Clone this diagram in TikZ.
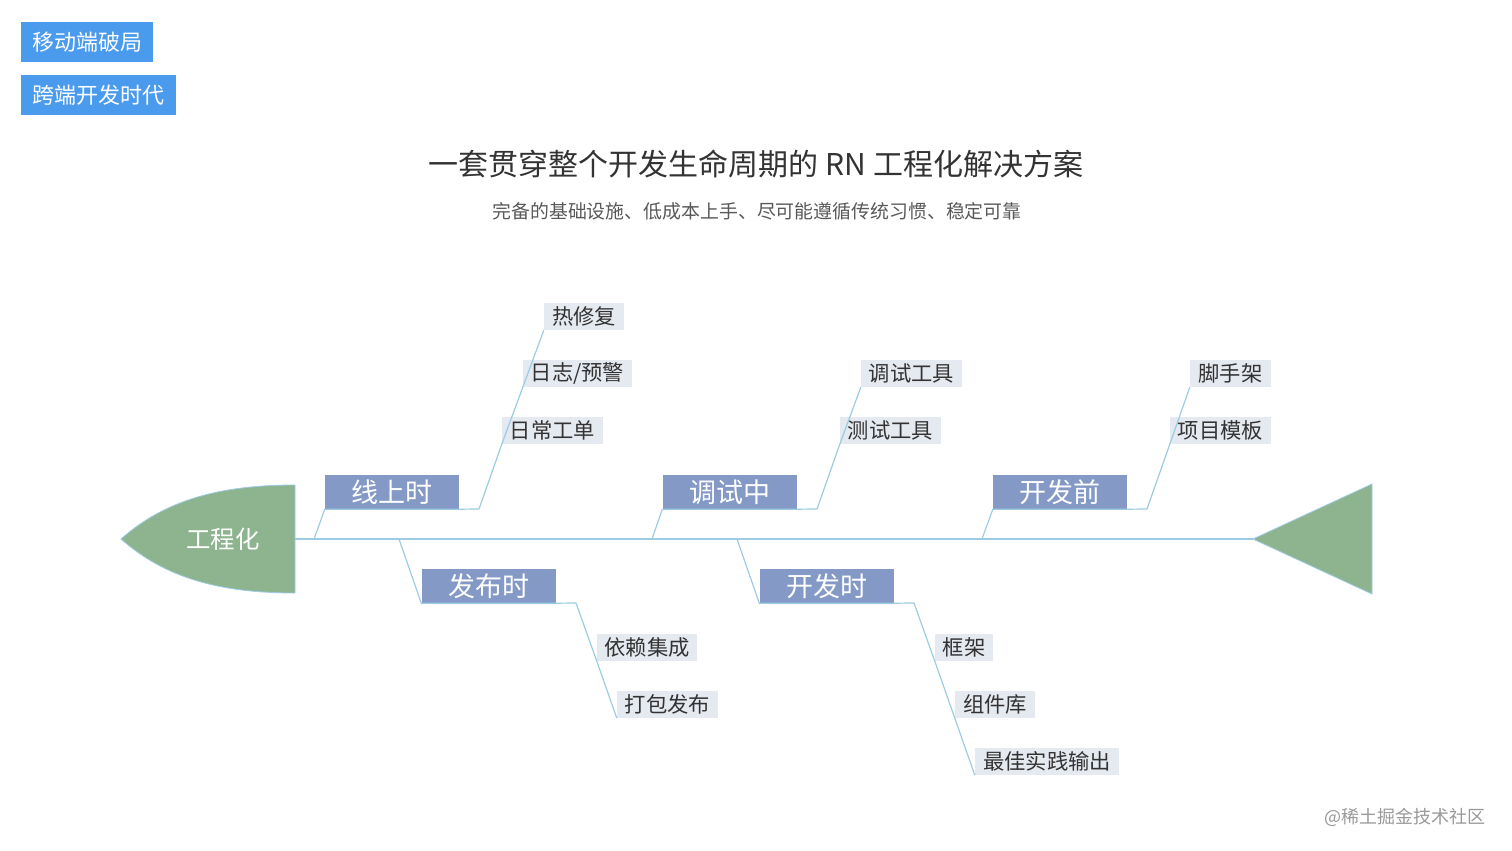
\documentclass[tikz,border=0pt]{standalone}
\usepackage{fontspec}
\setmainfont{Noto Sans CJK SC}
\definecolor{tagblue}{HTML}{4A9BEE}
\definecolor{catblue}{HTML}{8499C6}
\definecolor{subfill}{HTML}{E5E9F0}
\definecolor{fishgreen}{HTML}{8DB48E}
\definecolor{bone}{HTML}{9CCBE3}
\definecolor{txtdark}{HTML}{333333}
\tikzset{
  tagbox/.style={fill=tagblue,text=white,inner sep=0pt,minimum height=40pt,font=\fontsize{22}{25}\selectfont},
  catbox/.style={fill=catblue,text=white,inner sep=0pt,minimum width=134pt,minimum height=34pt,font=\fontsize{27}{30}\selectfont},
  subbox/.style={fill=subfill,text=txtdark,inner sep=0pt,minimum height=27pt,font=\fontsize{21.3}{23}\selectfont},
  boneline/.style={draw=bone,line width=1.2pt,line join=round},
}
\begin{document}
\begin{tikzpicture}[x=1pt,y=-1pt]
\useasboundingbox (0,0) rectangle (1512,851);
% tags
\node[tagbox,minimum width=132pt] (tag1) at (87,42) {移动端破局};
\node[tagbox,minimum width=155pt] (tag2) at (98.5,95) {跨端开发时代};
% titles
\node[text=txtdark,font=\fontsize{30}{34}\selectfont] (title) at (756,164) {一套贯穿整个开发生命周期的 RN 工程化解决方案};
\node[text=black!65,font=\fontsize{18.9}{22}\selectfont] (subtitle) at (757,211) {完备的基础设施、低成本上手、尽可能遵循传统习惯、稳定可靠};
% head and tail
\coordinate (headtip) at (121,539);
\coordinate (headtop) at (295,485);
\coordinate (headbot) at (295,593);
\coordinate (headR) at (295,539);
\coordinate (tailtip) at (1253,539);
\coordinate (tailtop) at (1372,484);
\coordinate (tailbot) at (1372,594);
\draw[fill=fishgreen,draw=bone,line width=0.8pt] (headtip) .. controls (165,500) and (220,485) .. (headtop) -- (headbot) .. controls (220,593) and (165,578) .. (headtip) -- cycle;
\draw[fill=fishgreen,draw=bone,line width=0.8pt] (tailtip) -- (tailtop) -- (tailbot) -- cycle;
\node[text=white,font=\fontsize{24.4}{27}\selectfont] (head) at (223,539) {工程化};
\draw[boneline] (headR) -- (tailtip);
% spine anchor points
\coordinate (s1) at (314,539);
\coordinate (s2) at (652,539);
\coordinate (s3) at (982,539);
\coordinate (s4) at (399,539);
\coordinate (s5) at (737,539);
% category boxes
\node[catbox] (online) at (392,492) {线上时};
\node[catbox] (debug) at (729.5,492) {调试中};
\node[catbox] (predev) at (1060,492) {开发前};
\node[catbox] (release) at (488.5,586) {发布时};
\node[catbox] (dev) at (826.5,586) {开发时};
% sub boxes
\node[subbox,minimum width=80pt] (hotfix) at (584,316.5) {热修复};
\node[subbox,minimum width=109pt] (log) at (577.5,373.5) {日志/预警};
\node[subbox,minimum width=101pt] (ticket) at (552.5,430.5) {日常工单};
\node[subbox,minimum width=101pt] (debugtool) at (911.5,373.5) {调试工具};
\node[subbox,minimum width=101pt] (testtool) at (890.5,430.5) {测试工具};
\node[subbox,minimum width=81pt] (scaffold) at (1230.5,373.5) {脚手架};
\node[subbox,minimum width=101pt] (template) at (1220.5,430.5) {项目模板};
\node[subbox,minimum width=100pt] (deps) at (647,647.5) {依赖集成};
\node[subbox,minimum width=101pt] (pack) at (667.5,704.5) {打包发布};
\node[subbox,minimum width=58pt] (frame) at (964,647.5) {框架};
\node[subbox,minimum width=80pt] (comp) at (995,704.5) {组件库};
\node[subbox,minimum width=144pt] (best) at (1047,761.5) {最佳实践输出};
% joints
\coordinate (j1) at (479,509);
\coordinate (j2) at (817,509);
\coordinate (j3) at (1147,509);
\coordinate (j4) at (576,603);
\coordinate (j5) at (914,603);
% bones
\draw[boneline] (s1) -- (online.south west) -- (online.south east) -- (j1) -- (ticket.south west) -- (log.south west) -- (hotfix.south west);
\draw[boneline] (s2) -- (debug.south west) -- (debug.south east) -- (j2) -- (testtool.south west) -- (debugtool.south west);
\draw[boneline] (s3) -- (predev.south west) -- (predev.south east) -- (j3) -- (template.south west) -- (scaffold.south west);
\draw[boneline] (s4) -- (release.south west) -- (release.south east) -- (j4) -- (deps.south west) -- (pack.south west);
\draw[boneline] (s5) -- (dev.south west) -- (dev.south east) -- (j5) -- (frame.south west) -- (comp.south west) -- (best.south west);
% watermark
\node[text=black!40,font=\fontsize{18}{20}\selectfont,anchor=east] (wm) at (1489,817) {@稀土掘金技术社区};
\end{tikzpicture}
\end{document}
